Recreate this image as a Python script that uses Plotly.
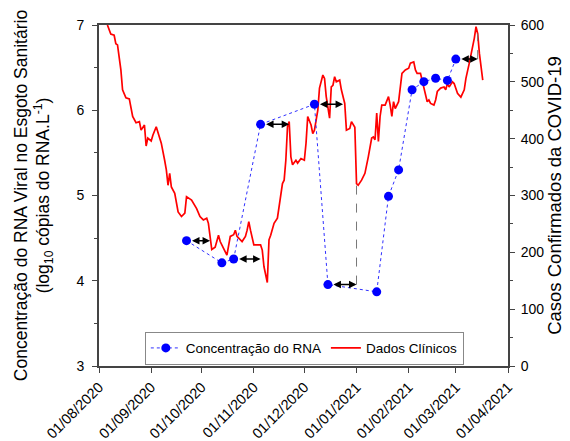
import plotly.graph_objects as go
from datetime import date, timedelta

# ---- Concentração do RNA (log10 cópias/L) ----
rna_datas = ["2020-09-22", "2020-10-13", "2020-10-20", "2020-11-05", "2020-12-07",
             "2020-12-15", "2021-01-13", "2021-01-20", "2021-01-26", "2021-02-03",
             "2021-02-10", "2021-02-17", "2021-02-24", "2021-03-01"]
rna_log = [4.47, 4.21, 4.255, 5.835, 6.07, 3.955, 3.87, 4.99, 5.30, 6.24,
           6.335, 6.375, 6.35, 6.6]

# ---- setas de defasagem (índice do ponto, dias) ----
seta_idx = [0, 2, 3, 4, 5, 13]
seta_dias = [14, 16, 17, 17, 17, 13]
seta_ligacao = [False, False, False, False, True, True]

# ---- Dados clínicos (casos confirmados) ----
casos_datas = [
    "2020-08-06", "2020-08-08", "2020-08-10", "2020-08-11", "2020-08-12", "2020-08-14",
    "2020-08-15", "2020-08-17", "2020-08-19", "2020-08-21", "2020-08-23", "2020-08-25",
    "2020-08-26", "2020-08-28", "2020-08-29", "2020-08-30", "2020-09-01", "2020-09-02",
    "2020-09-04", "2020-09-06", "2020-09-07", "2020-09-09", "2020-09-10", "2020-09-11",
    "2020-09-12", "2020-09-13", "2020-09-15", "2020-09-17", "2020-09-19", "2020-09-21",
    "2020-09-22", "2020-09-25", "2020-09-28", "2020-09-30", "2020-10-02", "2020-10-04",
    "2020-10-05", "2020-10-07", "2020-10-09", "2020-10-11", "2020-10-12", "2020-10-14",
    "2020-10-16", "2020-10-18", "2020-10-20", "2020-10-21", "2020-10-22", "2020-10-25",
    "2020-10-27", "2020-10-28", "2020-10-29", "2020-10-30", "2020-11-01", "2020-11-03",
    "2020-11-05", "2020-11-06", "2020-11-07", "2020-11-09", "2020-11-10", "2020-11-11",
    "2020-11-13", "2020-11-15", "2020-11-16", "2020-11-18", "2020-11-19", "2020-11-20",
    "2020-11-21", "2020-11-22", "2020-11-23", "2020-11-24", "2020-11-26", "2020-11-27",
    "2020-11-29", "2020-12-01", "2020-12-02", "2020-12-03", "2020-12-05", "2020-12-06",
    "2020-12-07", "2020-12-09", "2020-12-10", "2020-12-12", "2020-12-13", "2020-12-14",
    "2020-12-16", "2020-12-17", "2020-12-18", "2020-12-19", "2020-12-20", "2020-12-22",
    "2020-12-23", "2020-12-25", "2020-12-26", "2020-12-28", "2020-12-29", "2020-12-30",
    "2020-12-31", "2021-01-01", "2021-01-02", "2021-01-04", "2021-01-06", "2021-01-08",
    "2021-01-10", "2021-01-11", "2021-01-12", "2021-01-13", "2021-01-14", "2021-01-15",
    "2021-01-16", "2021-01-18", "2021-01-20", "2021-01-21", "2021-01-22", "2021-01-23",
    "2021-01-24", "2021-01-26", "2021-01-27", "2021-01-28", "2021-01-30", "2021-02-01",
    "2021-02-02", "2021-02-04", "2021-02-05", "2021-02-06", "2021-02-08", "2021-02-10",
    "2021-02-12", "2021-02-13", "2021-02-14", "2021-02-16", "2021-02-17", "2021-02-18",
    "2021-02-20", "2021-02-22", "2021-02-23", "2021-02-24", "2021-02-25", "2021-02-27",
    "2021-02-28", "2021-03-02", "2021-03-04", "2021-03-06", "2021-03-07", "2021-03-09",
    "2021-03-10", "2021-03-12", "2021-03-13", "2021-03-14", "2021-03-15", "2021-03-17"]
casos = [
    600, 584, 582, 567, 565, 521,
    486, 472, 470, 439, 428, 430,
    415, 424, 387, 401, 396, 406,
    421, 403, 392, 362, 345, 318,
    339, 315, 304, 271, 263, 269,
    298, 292, 277, 263, 257, 260,
    251, 205, 209, 230, 219, 207,
    195, 228, 231, 239, 228, 219,
    228, 239, 254, 239, 213, 213,
    213, 204, 175, 147, 222, 230,
    251, 260, 280, 321, 327, 362,
    421, 430, 368, 354, 362, 357,
    365, 362, 392, 439, 424, 409,
    415, 450, 489, 512, 506, 474,
    436, 491, 494, 509, 500, 503,
    486, 462, 415, 418, 430, 424,
    420, 321, 318, 327, 339, 368,
    401, 403, 398, 445, 395, 439,
    459, 459, 474, 459, 439, 465,
    453, 465, 494, 515, 521, 524,
    533, 535, 521, 515, 515, 491,
    465, 468, 462, 459, 468, 483,
    489, 491, 486, 497, 491, 500,
    497, 480, 473, 486, 506, 533,
    547, 577, 597, 585, 550, 503]

FONT = "Liberation Sans, Arial, sans-serif"
AXC = "#444444"

fig = go.Figure()

fig.add_trace(go.Scatter(
    x=casos_datas, y=casos, yaxis="y", mode="lines",
    line=dict(color="#ff0000", width=1.7), name="Dados Clínicos", legendrank=2))

fig.add_trace(go.Scatter(
    x=rna_datas, y=rna_log, yaxis="y2", mode="lines+markers",
    line=dict(color="#3030ff", width=1, dash="dot"),
    marker=dict(color="#0000ff", size=9),
    name="Concentração do RNA", legendrank=1))

# arrows and connectors
mapa_casos = dict(zip(casos_datas, casos))
shapes = []
annotations = []
for i, d, lig in zip(seta_idx, seta_dias, seta_ligacao):
    d0 = date.fromisoformat(rna_datas[i])
    d1 = (d0 + timedelta(days=d)).isoformat()
    yv = rna_log[i]
    annotations.append(dict(
        x=d1, y=yv, ax=rna_datas[i], ay=yv, xref="x", yref="y2",
        axref="x", ayref="y2", text="", showarrow=True,
        arrowhead=2, arrowside="end+start", arrowsize=1.0, arrowwidth=1.5,
        arrowcolor="black", startstandoff=4))
    if lig and d1 in mapa_casos:
        shapes.append(dict(
            type="line", xref="x", yref="y2", x0=d1, x1=d1,
            y0=yv, y1=3 + mapa_casos[d1] / 150.0,
            line=dict(color="#777777", width=1, dash="dash")))

fig.update_layout(
    width=562, height=433,
    margin=dict(l=91, r=62, t=17, b=75),
    paper_bgcolor="white", plot_bgcolor="white",
    font=dict(family=FONT, size=14, color="black"),
    showlegend=True,
    legend=dict(orientation="h", x=0.502, y=0.004, xanchor="center", yanchor="bottom",
                bordercolor="#888888", borderwidth=1, bgcolor="white",
                font=dict(size=13.5, family=FONT), tracegroupgap=0,
                itemwidth=30),
    xaxis=dict(
        type="date", range=["2020-08-01", "2021-04-01"], automargin=False,
        tick0="2020-08-01", dtick="M1", tickformat="%d/%m/%Y",
        tickangle=-45, ticks="outside", ticklen=5, tickcolor=AXC,
        showline=True, linecolor=AXC, linewidth=2, mirror=True,
        showgrid=False, zeroline=False, tickfont=dict(size=14.5)),
    yaxis=dict(
        range=[0, 600], side="right", dtick=100, tick0=0, automargin=False,
        ticks="outside", ticklen=5, tickcolor=AXC, ticklabelstandoff=3,
        minor=dict(dtick=50, ticks="outside", ticklen=3, tickcolor=AXC),
        showline=True, linecolor=AXC, linewidth=2,
        showgrid=False, zeroline=False, tickfont=dict(size=14),
        title=dict(text="Casos Confirmados da COVID-19", font=dict(size=18.5), standoff=1)),
    yaxis2=dict(
        range=[3, 7], side="left", overlaying="y", dtick=1, tick0=3, automargin=False,
        ticks="outside", ticklen=5, tickcolor=AXC, ticklabelstandoff=5,
        minor=dict(dtick=0.5, ticks="outside", ticklen=3, tickcolor=AXC),
        showline=True, linecolor=AXC, linewidth=2,
        showgrid=False, zeroline=False, tickfont=dict(size=14),
        title=dict(text="Concentração do RNA Viral no Esgoto Sanitário<br>(log<sub>10</sub> cópias do RNA.L<sup>-1</sup>)",
                   font=dict(size=17.5), standoff=22)),
    shapes=shapes,
    annotations=annotations,
)

fig.write_html("out.html")
